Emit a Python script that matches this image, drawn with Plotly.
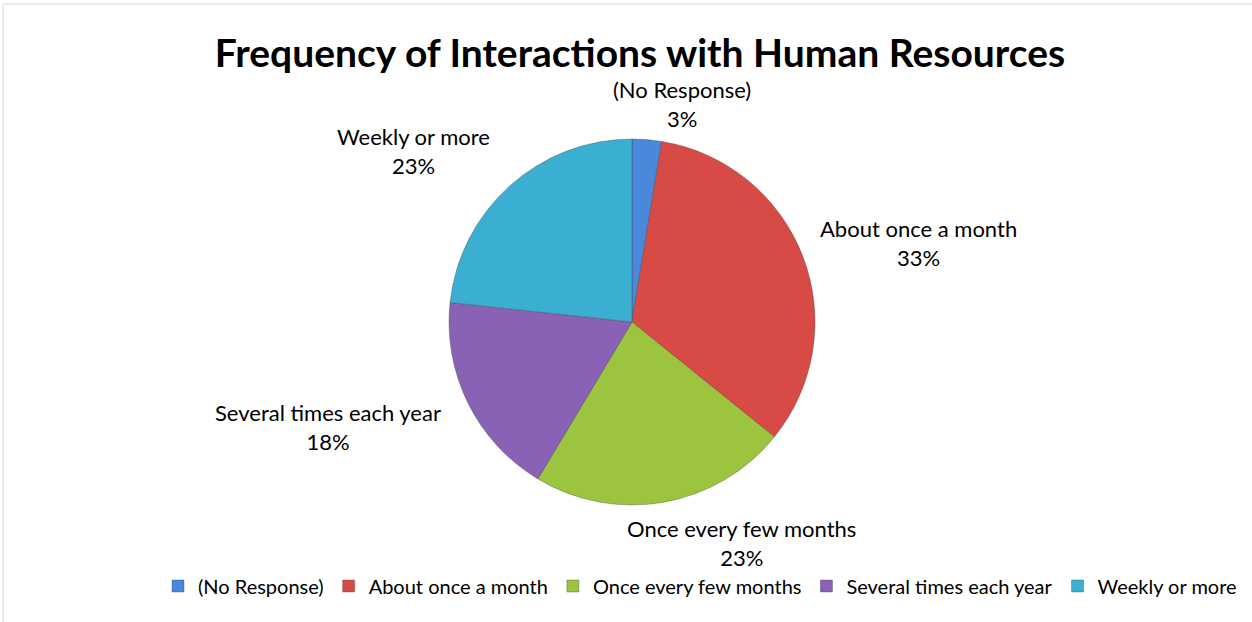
import plotly.graph_objects as go

categories = ["(No Response)", "About once a month", "Once every few months",
              "Several times each year", "Weekly or more"]
values = [2.6, 33.2, 22.8, 18.1, 23.3]
colors = ["#4A88DA", "#D84A45", "#9DC43F", "#8A62B5", "#3AAFD2"]

# label anchor positions (pixels, centre of each two-line data label)
label_pos = [(682, 104), (918, 243), (741, 543), (328, 427), (413, 151)]

W, H = 1252, 622
cx, cy, r = 632, 322, 183
FONT = "Lato, sans-serif"

fig = go.Figure()
fig.add_trace(go.Pie(
    labels=categories, values=values, sort=False, direction="clockwise",
    rotation=0, marker=dict(colors=colors, line=dict(color="rgba(60,60,60,0.35)", width=1)),
    textinfo="none", hoverinfo="label+percent",
    domain=dict(x=[(cx - r) / W, (cx + r) / W], y=[1 - (cy + r) / H, 1 - (cy - r) / H]),
))

total = sum(values)
for cat, v, (lx, ly) in zip(categories, values, label_pos):
    fig.add_annotation(
        x=lx / W, y=1 - ly / H, xref="paper", yref="paper",
        text=f"{cat}<br>{round(100 * v / total)}%", showarrow=False,
        font=dict(family=FONT, size=22, color="#000000"),
        align="center", xanchor="center", yanchor="middle",
    )

fig.add_shape(type="rect", xref="paper", yref="paper",
              x0=3 / W, x1=1.01, y0=-0.01, y1=1 - 4 / H,
              line=dict(color="#D9D9D9", width=1), fillcolor="rgba(0,0,0,0)")

fig.update_layout(
    width=W, height=H,
    margin=dict(l=0, r=0, t=0, b=0),
    paper_bgcolor="white", plot_bgcolor="white",
    title=dict(text="<b>Frequency of Interactions with Human Resources</b>",
               x=640 / W, xanchor="center", y=1 - 53 / H, yanchor="middle",
               font=dict(family=FONT, size=39, color="#000000")),
    legend=dict(orientation="h", x=700 / W, xanchor="center", y=1 - 586 / H, yanchor="middle",
                font=dict(family=FONT, size=20, color="#000000"),
                itemwidth=30, traceorder="normal"),
)

fig.write_html("out.html",
               config={"displayModeBar": False},
               post_script="document.body.style.margin='0';document.body.style.overflow='hidden';")
